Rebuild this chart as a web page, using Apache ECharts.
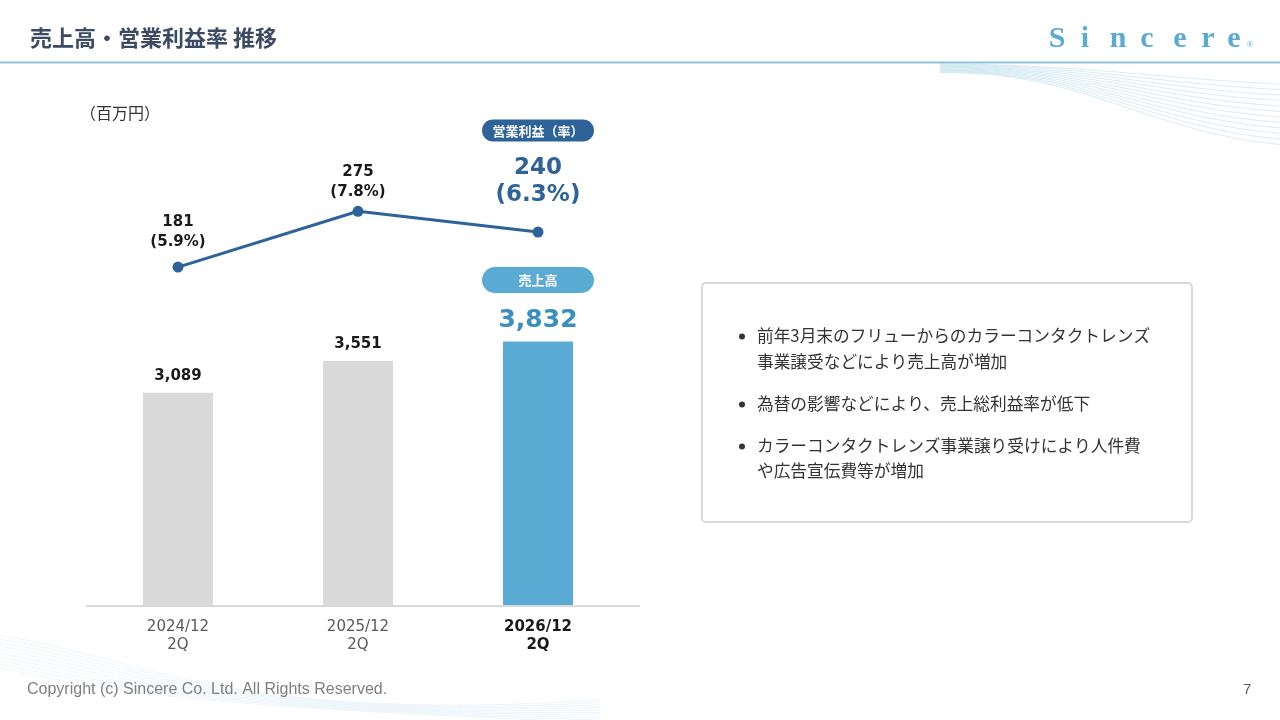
<!DOCTYPE html>
<html><head><meta charset="utf-8">
<script src="https://cdn.jsdelivr.net/npm/echarts@6/dist/echarts.min.js"></script>
<style>html,body{margin:0;padding:0;background:#fff}#c{width:1280px;height:720px}</style>
</head><body><div id="c"></div>
<script>
const categories = ['2024/12\n2Q', '2025/12\n2Q', '2026/12\n2Q'];
const salesValues = [3089, 3551, 3832];
const opProfitValues = [181, 275, 240];
const opMarginRates = [5.9, 7.8, 6.3];
const salesTag = '売上高';
const profitTag = '営業利益（率）';
const bullets = [
  ['前年3月末のフリューからのカラーコンタクトレンズ', '事業譲受などにより売上高が増加'],
  ['為替の影響などにより、売上総利益率が低下'],
  ['カラーコンタクトレンズ事業譲り受けにより人件費', 'や広告宣伝費等が増加']
];

const JP = '"Noto Sans CJK JP", "Noto Sans", sans-serif';
const NUM = '"DejaVu Sans", "Noto Sans CJK JP", sans-serif';
const DARK = '#2e6399', LIGHT = '#5aabd4', GRAY = '#d9d9d9';
const last = categories.length - 1;
const fmt = v => v.toLocaleString('en-US');

const chart = echarts.init(document.getElementById('c'), null, {renderer: 'canvas'});

const barData = salesValues.map((v, i) => {
  if (i !== last) return {value: v};
  return {
    value: v,
    itemStyle: {color: LIGHT},
    label: {
      formatter: () => '{pill|' + salesTag + '}\n{big|' + fmt(v) + '}',
      distance: 6,
      rich: {
        pill: {backgroundColor: LIGHT, color: '#fff', borderRadius: 13, width: 112, height: 26,
               lineHeight: 51, align: 'center', fontSize: 13, fontWeight: 'bold', fontFamily: JP},
        big: {color: '#3b8fc0', fontSize: 25, fontWeight: 'bold', lineHeight: 30, fontFamily: NUM, align: 'center'}
      }
    }
  };
});

const lineData = opProfitValues.map((v, i) => {
  if (i !== last) return {value: v, label: {distance: i === 0 ? 9 : 4}};
  return {
    value: v,
    label: {
      formatter: () => '{pill|' + profitTag + '}\n{big|' + v + '}\n{big|(' + opMarginRates[i].toFixed(1) + '%)}',
      distance: 18,
      rich: {
        pill: {backgroundColor: DARK, color: '#fff', borderRadius: 11, width: 112, height: 22,
               lineHeight: 48, align: 'center', fontSize: 13, fontWeight: 'bold', fontFamily: JP},
        big: {color: DARK, fontSize: 23, fontWeight: 'bold', lineHeight: 27, fontFamily: NUM, align: 'center'}
      }
    }
  };
});

const graphics = [];
// title
graphics.push({type: 'text', x: 30, y: 38, style: {text: '売上高・営業利益率 推移', font: 'bold 22px ' + JP, fill: '#3c4a62', verticalAlign: 'middle'}});
graphics.push({type: 'line', shape: {x1: 0, y1: 62.5, x2: 1280, y2: 62.5}, style: {stroke: '#8fc2d8', lineWidth: 2}});
// logo
const logoLetters = ['S', 'i', 'n', 'c', 'e', 'r', 'e'];
const logoX = [1057, 1085, 1118, 1147, 1180, 1208, 1234];
logoLetters.forEach((ch, i) => {
  graphics.push({type: 'text', x: logoX[i], y: 39, style: {text: ch, font: 'bold 30px "Liberation Serif", serif', fill: LIGHT, align: 'center', verticalAlign: 'middle'}});
});
graphics.push({type: 'text', x: 1250, y: 45, style: {text: '®', font: '8px sans-serif', fill: LIGHT, align: 'center', verticalAlign: 'middle'}});
// waves top-right
for (let k = 0; k < 12; k++) {
  graphics.push({type: 'bezierCurve', silent: true, z: -1,
    shape: {x1: 940, y1: 64 + k * 0.8, cpx1: 1080, cpy1: 64 + k * 0.5, cpx2: 1150, cpy2: 78 + k * 5, x2: 1280, y2: 84 + k * 5.5},
    style: {stroke: '#9fcfe3', lineWidth: 0.8, opacity: 0.5, fill: null}});
}
// waves bottom-left
for (let k = 0; k < 10; k++) {
  graphics.push({type: 'bezierCurve', silent: true, z: -1,
    shape: {x1: 0, y1: 636 + k * 3.5, cpx1: 120, cpy1: 650 + k * 5, cpx2: 220, cpy2: 725 - k * 2, x2: 600, y2: 700 + k * 2.5},
    style: {stroke: '#b3d9ea', lineWidth: 0.7, opacity: 0.35, fill: null}});
}
// unit
graphics.push({type: 'text', x: 80, y: 113, style: {text: '（百万円）', font: '16px ' + JP, fill: '#333', verticalAlign: 'middle'}});
// x-axis baseline
graphics.push({type: 'line', shape: {x1: 86, y1: 606, x2: 640, y2: 606}, style: {stroke: GRAY, lineWidth: 2}, z: 10});
// text box
graphics.push({type: 'rect', shape: {x: 702, y: 283, width: 490, height: 239, r: 4}, style: {fill: '#fff', stroke: '#d9d9d9', lineWidth: 2}, z: -1});
const lineYs = [[336, 362], [404], [446, 471]];
bullets.forEach((lines, bi) => {
  graphics.push({type: 'circle', shape: {cx: 742, cy: lineYs[bi][0] + 0.5, r: 3}, style: {fill: '#333'}});
  lines.forEach((t, li) => {
    graphics.push({type: 'text', x: 757, y: lineYs[bi][li], style: {text: t, font: '16.7px ' + JP, fill: '#333', verticalAlign: 'middle'}});
  });
});
// footer
graphics.push({type: 'text', x: 27, y: 690, style: {text: 'Copyright (c) Sincere Co. Ltd. All Rights Reserved.', font: '16px "Liberation Sans", Arial, sans-serif', fill: '#7f7f7f', verticalAlign: 'middle'}});
graphics.push({type: 'text', x: 1243, y: 690, style: {text: '7', font: '15px "Liberation Sans", Arial, sans-serif', fill: '#595959', verticalAlign: 'middle'}});

chart.setOption({
  backgroundColor: '#fff',
  animation: false,
  grid: {left: 88, width: 540, top: 54, bottom: 114},
  xAxis: {
    type: 'category',
    data: categories.map((c, i) => i === last
      ? {value: c, textStyle: {fontWeight: 'bold', color: '#1a1a1a'}}
      : {value: c}),
    axisLine: {show: false},
    axisTick: {show: false},
    axisLabel: {color: '#595959', fontSize: 15, lineHeight: 18, margin: 12, fontFamily: NUM}
  },
  yAxis: [
    {type: 'value', min: 0, max: 8000, show: false, splitLine: {show: false}},
    {type: 'value', min: -390, max: 540, show: false, splitLine: {show: false}}
  ],
  series: [
    {
      type: 'bar', yAxisIndex: 0, barWidth: 70, data: barData,
      itemStyle: {color: GRAY},
      label: {show: true, position: 'top', distance: 9, color: '#1a1a1a', fontSize: 15, fontWeight: 'bold',
              fontFamily: NUM, formatter: p => fmt(p.value)}
    },
    {
      type: 'line', yAxisIndex: 1, data: lineData, z: 5,
      lineStyle: {color: DARK, width: 3},
      itemStyle: {color: DARK},
      symbol: 'circle', symbolSize: 11,
      label: {show: true, position: 'top', color: '#1a1a1a', fontSize: 15, fontWeight: 'bold', lineHeight: 20,
              fontFamily: NUM, align: 'center',
              formatter: p => p.value + '\n(' + opMarginRates[p.dataIndex].toFixed(1) + '%)'}
    }
  ],
  graphic: graphics
});
</script>
</body></html>
